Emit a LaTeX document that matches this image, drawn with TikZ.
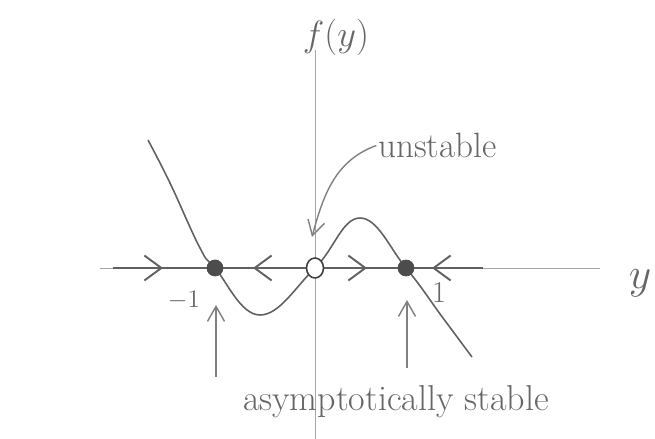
\documentclass[tikz,border=0pt]{standalone}
\usepackage{xcolor}
\usepackage{tikz}
\usetikzlibrary{arrows.meta,positioning,shapes.geometric}

\begin{document}
\begin{tikzpicture}[
  axis/.style={draw=black!35, thin},
  phaseline/.style={draw=black!62, line width=1.3pt},
  graph/.style={draw=black!62, line width=0.9pt},
  chev/.style={draw=black!62, line width=1.1pt,
    -{Straight Barb[length=3.4mm, width=5mm, line width=1.1pt]}},
  pointer/.style={draw=black!50, line width=0.8pt,
    -{Straight Barb[length=3mm, width=3.4mm, line width=0.8pt]}},
  stab/.style={circle, fill=black!70, draw=black!70, inner sep=0pt, minimum size=3.2mm},
  unst/.style={ellipse, fill=white, draw=black!75, line width=0.9pt, inner sep=0pt,
    minimum width=3.4mm, minimum height=4mm},
  lab/.style={text=black!60, inner sep=1pt}
]
\useasboundingbox (-6.3,-3.42) rectangle (6.8,5.36);

\draw[axis] (-4.3,0) -- (5.7,0);
\draw[axis] (0,4.36) -- (0,-3.42);

\draw[graph] plot[smooth, tension=0.7] coordinates {(-3.34,2.56) (-2.9,1.7) (-2.3,0.4)
  (-2.0,0) (-1.1,-0.94) (0,0) (0.9,1.0) (1.82,0) (2.56,-1.0) (3.14,-1.78)};

\draw[phaseline] (-4.04,0) -- (3.36,0);
\draw[chev] (-3.5,0) -- (-3.04,0);
\draw[chev] (-0.8,0) -- (-1.24,0);
\draw[chev] (0.6,0) -- (1.04,0);
\draw[chev] (2.8,0) -- (2.34,0);

\node[stab] (em) at (-2.0,0) {};
\node[unst] (ez) at (0,0) {};
\node[stab] (ep) at (1.82,0) {};

\node[lab, font=\fontsize{22}{24}\selectfont] (fy) at (0.42,4.62) {$f(y)$};
\node[lab, font=\fontsize{40}{40}\selectfont] (yy) at (6.5,-0.3) {$y$};
\node[lab, font=\Large] (m1) at (-2.62,-0.64) {$-1$};
\node[lab, font=\LARGE] (p1) at (2.48,-0.5) {$1$};
\node[lab, font=\fontsize{20}{22}\selectfont] (un) at (2.45,2.45) {unstable};
\node[lab, font=\fontsize{20.5}{24}\selectfont] (as) at (1.62,-2.68) {asymptotically stable};

\coordinate (ut) at (-0.06,0.62);
\coordinate (am) at (-1.98,-2.18);
\coordinate (amt) at (-1.98,-0.74);
\coordinate (ap) at (1.84,-2.0);
\coordinate (apt) at (1.84,-0.64);

\draw[pointer] (un.west) to[out=200, in=75] (ut);
\draw[pointer] (am) -- (amt);
\draw[pointer] (ap) -- (apt);
\end{tikzpicture}
\end{document}
